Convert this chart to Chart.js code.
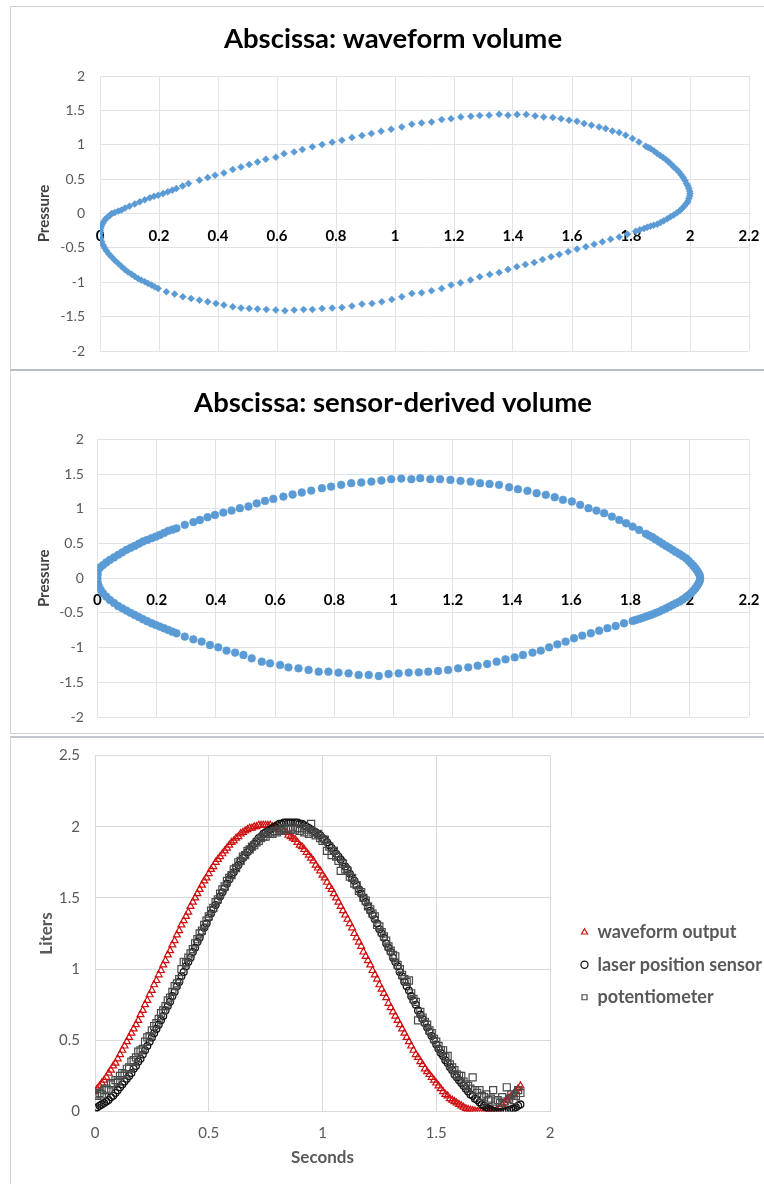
<!DOCTYPE html>
<html>
<head>
<meta charset="utf-8">
<script src="https://cdn.jsdelivr.net/npm/chart.js@4.4.0/dist/chart.umd.min.js"></script>
<style>
  html, body { margin: 0; padding: 0; background: #fff; width: 764px; height: 1184px; overflow: hidden; }
  .frame { position: absolute; left: 10px; width: 800px; border: 1px solid #cfd3d9; box-sizing: border-box; }
  #f1 { top: 6px; height: 365px; border-bottom: 2px solid #b9bdc4; }
  #f2 { top: 371px; height: 363px; border-top: none; }
  #f3 { top: 736px; height: 460px; border-top: 2px solid #c3c7cd; }
  canvas { position: absolute; left: 11px; }
  #c1 { top: 7px; }
  #c2 { top: 371px; }
  #c3 { top: 738px; }
</style>
</head>
<body>
<div class="frame" id="f1"></div>
<div class="frame" id="f2"></div>
<div class="frame" id="f3"></div>
<canvas id="c1" width="764" height="362"></canvas>
<canvas id="c2" width="764" height="362"></canvas>
<canvas id="c3" width="764" height="446"></canvas>
<script>
  "use strict";

  // ====
  // Data
  // ====
  const panelTitles = ["Abscissa: waveform volume", "Abscissa: sensor-derived volume"];
  const legendLabels = ["waveform output", "laser position sensor", "potentiometer"];

  // [volume, pressure]
  const waveformLoop = [
    [0,-0.29],[0.002,-0.218],[0.009,-0.145],[0.02,-0.073],[0.034,-0.024],[0.05,0.015],[0.073,0.05],[0.1,0.107],
    [0.135,0.17],[0.169,0.228],[0.197,0.266],[0.23,0.315],[0.259,0.363],[0.28,0.4],[0.3,0.436],[0.337,0.485],
    [0.365,0.523],[0.39,0.557],[0.42,0.59],[0.45,0.64],[0.478,0.678],[0.506,0.712],[0.534,0.75],[0.562,0.79],
    [0.596,0.82],[0.624,0.87],[0.658,0.896],[0.686,0.93],[0.72,0.97],[0.753,1.003],[0.787,1.037],[0.82,1.066],
    [0.854,1.105],[0.888,1.134],[0.92,1.163],[0.953,1.197],[0.987,1.226],[1.023,1.26],[1.057,1.3],[1.09,1.318],
    [1.124,1.33],[1.158,1.366],[1.19,1.38],[1.223,1.405],[1.257,1.415],[1.287,1.424],[1.319,1.43],[1.353,1.444],
    [1.383,1.43],[1.414,1.44],[1.445,1.44],[1.475,1.42],[1.504,1.405],[1.535,1.395],[1.563,1.38],[1.59,1.357],
    [1.617,1.342],[1.641,1.308],[1.666,1.284],[1.692,1.26],[1.714,1.235],[1.737,1.2],[1.76,1.177],[1.782,1.14],
    [1.805,1.09],[1.827,1.04],[1.85,0.98],[1.866,0.945],[1.889,0.872],[1.909,0.814],[1.928,0.75],[1.945,0.678],
    [1.962,0.606],[1.977,0.523],[1.988,0.436],[1.996,0.363],[2,0.29],[1.996,0.218],[1.988,0.145],[1.973,0.073],
    [1.956,0.01],[1.934,-0.048],[1.911,-0.107],[1.889,-0.155],[1.866,-0.184],[1.844,-0.218],[1.816,-0.257],[1.788,-0.3],
    [1.76,-0.34],[1.731,-0.373],[1.703,-0.412],[1.675,-0.446],[1.647,-0.485],[1.617,-0.518],[1.587,-0.557],[1.557,-0.596],
    [1.529,-0.63],[1.5,-0.669],[1.472,-0.712],[1.442,-0.741],[1.413,-0.775],[1.383,-0.814],[1.353,-0.858],[1.321,-0.887],
    [1.287,-0.92],[1.256,-0.969],[1.222,-1.008],[1.19,-1.04],[1.158,-1.09],[1.124,-1.124],[1.09,-1.153],[1.057,-1.163],
    [1.023,-1.21],[0.989,-1.25],[0.955,-1.284],[0.922,-1.308],[0.888,-1.318],[0.854,-1.347],[0.82,-1.366],[0.787,-1.376],
    [0.753,-1.38],[0.72,-1.395],[0.69,-1.395],[0.658,-1.405],[0.627,-1.415],[0.596,-1.405],[0.564,-1.395],[0.534,-1.39],
    [0.506,-1.38],[0.478,-1.376],[0.45,-1.357],[0.42,-1.332],[0.393,-1.308],[0.365,-1.284],[0.337,-1.26],[0.309,-1.235],
    [0.281,-1.21],[0.253,-1.172],[0.225,-1.139],[0.197,-1.09],[0.174,-1.04],[0.152,-0.993],[0.129,-0.945],[0.107,-0.882],
    [0.084,-0.814],[0.062,-0.727],[0.039,-0.63],[0.022,-0.543],[0.011,-0.46],[0.002,-0.363],
    // dense stretches at both turning points
    [0.085,0.08],[0.118,0.14],[0.152,0.2],[0.183,0.25],[0.214,0.29],[0.245,0.34],[0.062,0.035],[0.04,0],
    [0.027,-0.05],[0.014,-0.11],[0.005,-0.18],[0.001,-0.25],[0,-0.33],[0.006,-0.41],[0.016,-0.5],[0.03,-0.59],
    [0.05,-0.68],[0.073,-0.77],[0.095,-0.85],[0.118,-0.915],[0.14,-0.97],[0.163,-1.017],[0.185,-1.065],
    [1.858,0.96],[1.878,0.91],[1.899,0.843],[1.919,0.782],[1.937,0.714],[1.954,0.642],[1.97,0.565],[1.983,0.48],
    [1.993,0.4],[1.999,0.325],[1.999,0.254],[1.993,0.18],[1.981,0.11],[1.965,0.04],[1.945,-0.02],[1.923,-0.078],
    [1.9,-0.13],[1.877,-0.17],[1.855,-0.2],[1.83,-0.237]
  ];

  // [volume, pressure]
  const sensorLoop = [
    [0,0],[0.002,0.12],[0.019,0.19],[0.042,0.264],[0.07,0.337],[0.098,0.41],[0.126,0.466],[0.154,0.53],
    [0.183,0.577],[0.211,0.625],[0.239,0.683],[0.267,0.72],[0.295,0.77],[0.324,0.81],[0.346,0.84],[0.372,0.88],
    [0.397,0.913],[0.425,0.947],[0.453,0.976],[0.481,1.01],[0.51,1.034],[0.538,1.08],[0.566,1.115],[0.594,1.144],
    [0.628,1.178],[0.659,1.207],[0.69,1.236],[0.722,1.264],[0.758,1.298],[0.789,1.322],[0.823,1.346],[0.857,1.37],
    [0.891,1.38],[0.925,1.394],[0.959,1.409],[0.992,1.428],[1.026,1.437],[1.06,1.428],[1.09,1.442],[1.124,1.428],
    [1.157,1.428],[1.192,1.418],[1.226,1.404],[1.26,1.394],[1.292,1.37],[1.324,1.36],[1.356,1.346],[1.39,1.312],
    [1.42,1.284],[1.452,1.26],[1.483,1.226],[1.514,1.202],[1.544,1.168],[1.572,1.13],[1.602,1.106],[1.63,1.058],
    [1.658,1.01],[1.685,0.976],[1.711,0.938],[1.737,0.889],[1.762,0.841],[1.785,0.793],[1.807,0.745],[1.829,0.697],
    [1.852,0.64],[1.874,0.591],[1.897,0.529],[1.92,0.466],[1.942,0.41],[1.965,0.35],[1.987,0.288],[2.004,0.216],
    [2.019,0.144],[2.03,0.072],[2.035,0],[2.03,-0.072],[2.019,-0.144],[2.004,-0.216],[1.987,-0.274],[1.965,-0.337],
    [1.942,-0.385],[1.92,-0.433],[1.897,-0.48],[1.874,-0.52],[1.852,-0.553],[1.829,-0.587],[1.807,-0.615],[1.778,-0.649],
    [1.75,-0.688],[1.722,-0.72],[1.694,-0.755],[1.666,-0.793],[1.637,-0.827],[1.609,-0.865],[1.581,-0.913],[1.553,-0.952],
    [1.525,-0.995],[1.497,-1.043],[1.469,-1.072],[1.437,-1.106],[1.409,-1.14],[1.378,-1.168],[1.348,-1.202],[1.316,-1.236],
    [1.284,-1.26],[1.252,-1.284],[1.218,-1.298],[1.184,-1.322],[1.15,-1.337],[1.117,-1.346],[1.085,-1.356],[1.051,-1.36],
    [1.017,-1.37],[0.983,-1.38],[0.95,-1.409],[0.916,-1.394],[0.882,-1.394],[0.848,-1.37],[0.814,-1.36],[0.78,-1.346],
    [0.747,-1.346],[0.713,-1.322],[0.679,-1.298],[0.645,-1.284],[0.617,-1.25],[0.583,-1.226],[0.555,-1.202],[0.521,-1.154],
    [0.493,-1.106],[0.465,-1.072],[0.436,-1.043],[0.408,-0.995],[0.38,-0.962],[0.352,-0.913],[0.324,-0.88],[0.295,-0.841],
    [0.267,-0.793],[0.239,-0.745],[0.211,-0.697],[0.183,-0.649],[0.154,-0.591],[0.126,-0.529],[0.098,-0.466],[0.07,-0.4],
    [0.042,-0.312],[0.019,-0.216],[0.005,-0.12],[0,-0.048],
    // dense stretches at both turning points
    [0.001,0.06],[0.009,0.155],[0.03,0.228],[0.056,0.3],[0.084,0.373],[0.112,0.438],[0.14,0.498],[0.168,0.553],
    [0.197,0.6],[0.225,0.654],[0.253,0.7],[0.002,-0.084],[0.011,-0.168],[0.03,-0.264],[0.056,-0.356],[0.084,-0.433],
    [0.112,-0.498],[0.14,-0.56],[0.168,-0.62],[0.197,-0.673],[0.225,-0.721],[0.253,-0.77],
    [1.863,0.615],[1.885,0.56],[1.908,0.497],[1.931,0.438],[1.953,0.38],[1.976,0.32],[1.996,0.252],[2.012,0.18],
    [2.025,0.108],[2.034,0.036],[2.034,-0.036],[2.025,-0.108],[2.012,-0.18],[1.996,-0.245],[1.976,-0.306],[1.953,-0.361],
    [1.931,-0.41],[1.908,-0.457],[1.885,-0.5],[1.863,-0.537],[1.84,-0.57],[1.818,-0.6]
  ];

  // bottom panel: sample times (s) and volumes (L)
  const seconds = [
    0,0.01,0.02,0.03,0.04,0.05,0.06,0.07,0.08,0.09,0.1,0.11,0.12,0.13,0.14,0.15,0.16,0.17,0.18,0.19,
    0.2,0.21,0.22,0.23,0.24,0.25,0.26,0.27,0.28,0.29,0.3,0.31,0.32,0.33,0.34,0.35,0.36,0.37,0.38,0.39,
    0.4,0.41,0.42,0.43,0.44,0.45,0.46,0.47,0.48,0.49,0.5,0.51,0.52,0.53,0.54,0.55,0.56,0.57,0.58,0.59,
    0.6,0.61,0.62,0.63,0.64,0.65,0.66,0.67,0.68,0.69,0.7,0.71,0.72,0.73,0.74,0.75,0.76,0.77,0.78,0.79,
    0.8,0.81,0.82,0.83,0.84,0.85,0.86,0.87,0.88,0.89,0.9,0.91,0.92,0.93,0.94,0.95,0.96,0.97,0.98,0.99,
    1,1.01,1.02,1.03,1.04,1.05,1.06,1.07,1.08,1.09,1.1,1.11,1.12,1.13,1.14,1.15,1.16,1.17,1.18,1.19,
    1.2,1.21,1.22,1.23,1.24,1.25,1.26,1.27,1.28,1.29,1.3,1.31,1.32,1.33,1.34,1.35,1.36,1.37,1.38,1.39,
    1.4,1.41,1.42,1.43,1.44,1.45,1.46,1.47,1.48,1.49,1.5,1.51,1.52,1.53,1.54,1.55,1.56,1.57,1.58,1.59,
    1.6,1.61,1.62,1.63,1.64,1.65,1.66,1.67,1.68,1.69,1.7,1.71,1.72,1.73,1.74,1.75,1.76,1.77,1.78,1.79,
    1.8,1.81,1.82,1.83,1.84,1.85,1.86,1.87
  ];
  const waveformOutput = [
    0.14,0.16,0.18,0.2,0.22,0.24,0.27,0.29,0.32,0.34, 0.37,0.4,0.43,0.46,0.49,0.52,0.55,0.58,0.61,0.64,
    0.68,0.71,0.75,0.78,0.82,0.85,0.89,0.92,0.96,0.99, 1.03,1.06,1.1,1.13,1.17,1.2,1.24,1.27,1.31,1.34,
    1.37,1.4,1.44,1.47,1.5,1.53,1.56,1.59,1.62,1.64, 1.67,1.7,1.72,1.75,1.77,1.79,1.81,1.83,1.85,1.87,
    1.89,1.9,1.92,1.93,1.95,1.96,1.97,1.98,1.99,1.99, 2,2,2.01,2.01,2.01,2.01,2.01,2.01,2,2,
    1.99,1.98,1.98,1.97,1.96,1.94,1.93,1.92,1.91,1.89, 1.87,1.86,1.84,1.82,1.8,1.78,1.76,1.73,1.71,1.69,
    1.66,1.64,1.61,1.58,1.56,1.53,1.5,1.47,1.44,1.41, 1.38,1.35,1.32,1.29,1.25,1.22,1.19,1.16,1.12,1.09,
    1.06,1.03,0.99,0.96,0.93,0.89,0.86,0.83,0.8,0.76, 0.73,0.7,0.67,0.64,0.61,0.58,0.55,0.52,0.49,0.46,
    0.43,0.4,0.38,0.35,0.33,0.3,0.28,0.26,0.24,0.22, 0.2,0.18,0.16,0.14,0.12,0.11,0.09,0.08,0.07,0.06,
    0.05,0.04,0.03,0.02,0.015,0.01,0.006,0.003,0.001,0, 0,0,0,0,0,0,0,0.01,0.03,0.05,
    0.065,0.08,0.095,0.11,0.125,0.14,0.16,0.18
  ];
  const laserSensor = [
    0.02,0.03,0.04,0.05,0.06,0.07,0.08,0.1,0.11,0.13, 0.15,0.17,0.19,0.21,0.23,0.25,0.27,0.3,0.32,0.35,
    0.37,0.4,0.43,0.46,0.49,0.52,0.55,0.58,0.61,0.64, 0.67,0.71,0.74,0.77,0.81,0.84,0.88,0.91,0.95,0.98,
    1.02,1.05,1.08,1.12,1.15,1.19,1.22,1.26,1.29,1.32, 1.36,1.39,1.42,1.45,1.48,1.51,1.54,1.57,1.6,1.63,
    1.66,1.68,1.71,1.73,1.76,1.78,1.8,1.82,1.84,1.86, 1.88,1.9,1.92,1.93,1.95,1.96,1.97,1.98,1.99,2,
    2.01,2.02,2.02,2.03,2.03,2.03,2.03,2.03,2.03,2.03, 2.02,2.02,2.01,2,1.99,1.98,1.97,1.96,1.95,1.94,
    1.92,1.91,1.89,1.87,1.85,1.83,1.81,1.79,1.77,1.75, 1.72,1.7,1.67,1.64,1.62,1.59,1.56,1.53,1.5,1.47,
    1.44,1.41,1.38,1.35,1.32,1.28,1.25,1.22,1.18,1.15, 1.12,1.08,1.05,1.02,0.98,0.95,0.91,0.88,0.85,0.81,
    0.78,0.75,0.71,0.68,0.65,0.62,0.59,0.56,0.53,0.5, 0.47,0.44,0.41,0.39,0.36,0.34,0.31,0.29,0.26,0.24,
    0.22,0.2,0.18,0.16,0.14,0.12,0.11,0.09,0.08,0.065, 0.05,0.04,0.03,0.02,0.013,0.005,0,-0.005,-0.005,0,
    0,0.005,0.01,0.015,0.02,0.03,0.04,0.05
  ];
  const potentiometer = [
    0.12,0.11,0.13,0.12,0.15,0.16,0.15,0.19,0.2,0.22, 0.21,0.25,0.27,0.26,0.3,0.31,0.35,0.36,0.38,0.42,
    0.43,0.44,0.49,0.52,0.53,0.57,0.6,0.62,0.65,0.69, 0.71,0.74,0.78,0.8,0.84,0.88,0.9,0.93,1,1.05,
    1.04,1.08,1.11,1.14,1.18,1.21,1.25,1.27,1.31,1.34, 1.37,1.41,1.43,1.47,1.49,1.53,1.56,1.58,1.62,1.64,
    1.66,1.7,1.71,1.75,1.76,1.79,1.8,1.83,1.84,1.86, 1.87,1.89,1.9,1.92,1.93,1.93,1.95,1.96,1.95,1.97,
    1.96,1.98,1.97,1.99,1.98,1.99,1.98,2,1.98,1.99, 1.97,1.99,1.96,1.98,1.95,2.02,1.96,1.94,1.95,1.92,
    1.9,1.91,1.83,1.86,1.8,1.83,1.79,1.76,1.69,1.74, 1.7,1.69,1.65,1.64,1.6,1.59,1.55,1.54,1.5,1.48,
    1.44,1.42,1.39,1.37,1.31,1.3,1.26,1.23,1.2,1.16, 1.13,1.1,1.09,1.03,1,0.96,0.93,0.91,0.92,0.83,
    0.79,0.77,0.64,0.7,0.66,0.63,0.61,0.57,0.55,0.51, 0.49,0.46,0.43,0.43,0.38,0.39,0.33,0.31,0.29,0.26,
    0.25,0.25,0.21,0.19,0.18,0.16,0.24,0.15,0.13,0.15, 0.11,0.1,0.12,0.08,0.09,0.15,0.07,0.08,0.06,0.1,
    0.07,0.17,0.09,0.12,0.08,0.11,0.15,0.13
  ];

  // =====
  // Style
  // =====
  const FONT = 'Lato, "Open Sans", "DejaVu Sans", sans-serif';
  const BLUE = "#5b9bd5";
  const LOOP_GRID = "#e0e3e8";
  const TIME_GRID = "#d9d9d9";
  Chart.defaults.font.family = FONT;

  const fmt = (v) => String(Math.round(v * 10) / 10);
  const toPoints = (pairs) => pairs.map(([x, y]) => ({ x, y }));
  const toSeries = (ys) => ys.map((y, i) => ({ x: seconds[i], y }));

  // tick padding should only push labels sideways, not shrink the plot
  const fixWidth = (w) => (scale) => {
    scale.width = w;
    scale.paddingTop = 0;
    scale.paddingBottom = 0;
  };
  const spacer = (w) => ({
    position: "right",
    grid: { display: false },
    border: { display: false },
    ticks: { display: false },
    afterFit: fixWidth(w),
  });

  // ===========
  // Loop panels
  // ===========
  const drawLoop = (canvasId, pairs, pointStyle, radius, o) => {
    return new Chart(document.getElementById(canvasId), {
      type: "scatter",
      data: {
        datasets: [
          {
            data: toPoints(pairs),
            pointStyle: pointStyle,
            pointRadius: radius,
            backgroundColor: BLUE,
            borderColor: BLUE,
            borderWidth: 0.5,
          },
        ],
      },
      options: {
        responsive: false,
        animation: false,
        devicePixelRatio: 1,
        events: [],
        layout: { padding: { left: 0, right: 0, top: 0, bottom: o.padBottom } },
        plugins: {
          legend: { display: false },
          tooltip: { enabled: false },
          title: {
            display: true,
            text: o.title,
            color: "#000",
            font: { size: 27.5, weight: "bold" },
            padding: { top: 15.7, bottom: o.titleBottom },
          },
        },
        scales: {
          x: {
            type: "linear",
            position: { y: 0 },
            min: 0,
            max: 2.2,
            ticks: {
              stepSize: 0.2,
              autoSkip: false,
              padding: o.xPad,
              color: "#000",
              font: { size: 15, weight: "bold" },
              callback: fmt,
            },
            grid: { color: LOOP_GRID, drawTicks: false },
            border: { display: false },
          },
          y: {
            min: -2,
            max: 2,
            ticks: { stepSize: 0.5, padding: o.yPad, color: "#595959", font: { size: 14 }, callback: fmt },
            grid: { color: LOOP_GRID, drawTicks: false },
            border: { display: false },
            title: {
              display: true,
              text: "Pressure",
              color: "#404040",
              font: { size: 15, weight: "bold" },
              padding: { top: 24, bottom: 0 },
            },
            afterFit: fixWidth(o.yWidth),
          },
          gap: spacer(26),
        },
      },
    });
  };

  drawLoop("c1", waveformLoop, "rectRot", 3.5, {
    title: panelTitles[0], padBottom: 18, titleBottom: 20.3, xPad: 14, yPad: 15, yWidth: 89,
  });
  drawLoop("c2", sensorLoop, "circle", 3.9, {
    title: panelTitles[1], padBottom: 16, titleBottom: 19.8, xPad: 12.5, yPad: 13.5, yWidth: 86.4,
  });

  // ==========
  // Time panel
  // ==========
  const LEGEND_FONT = 18;
  const LEGEND_PAD = 14.5;
  const LEGEND_BOX = 8;
  const LEGEND_GAP = 16;
  const measure = document.createElement("canvas").getContext("2d");
  measure.font = `bold ${LEGEND_FONT}px ${FONT}`;
  const legendTextWidth = Math.max(...legendLabels.map((t) => measure.measureText(t).width));
  // legend box = padding + marker + gap + text + 10; plot must end 225px from the canvas right edge
  const legendWidth = LEGEND_PAD + LEGEND_BOX + LEGEND_FONT / 2 + legendTextWidth + 10;
  const rightPad = Math.max(0, 764 - 539 - LEGEND_GAP - legendWidth);

  new Chart(document.getElementById("c3"), {
    type: "scatter",
    data: {
      datasets: [
        {
          label: legendLabels[0],
          data: toSeries(waveformOutput),
          pointStyle: "triangle",
          pointRadius: 4,
          backgroundColor: "rgba(0,0,0,0)",
          borderColor: "#cf1010",
          borderWidth: 1.2,
          order: 3,
        },
        {
          label: legendLabels[1],
          data: toSeries(laserSensor),
          pointStyle: "circle",
          pointRadius: 3.4,
          backgroundColor: "rgba(0,0,0,0)",
          borderColor: "#141414",
          borderWidth: 1.3,
          order: 2,
        },
        {
          label: legendLabels[2],
          data: toSeries(potentiometer),
          pointStyle: "rect",
          pointRadius: 5,
          backgroundColor: "rgba(0,0,0,0)",
          borderColor: "#4a4a4a",
          borderWidth: 1.2,
          order: 1,
        },
      ],
    },
    options: {
      responsive: false,
      animation: false,
      devicePixelRatio: 1,
      events: [],
      layout: { padding: { left: 0, right: rightPad, top: 17.5, bottom: 10 } },
      plugins: {
        tooltip: { enabled: false },
        legend: {
          position: "right",
          maxWidth: 400,
          labels: {
            usePointStyle: true,
            boxWidth: LEGEND_BOX,
            boxHeight: 5,
            padding: LEGEND_PAD,
            color: "#595959",
            font: { size: LEGEND_FONT, weight: "bold" },
            sort: (a, b) => a.datasetIndex - b.datasetIndex,
          },
        },
      },
      scales: {
        x: {
          min: 0,
          max: 2,
          ticks: { stepSize: 0.5, padding: 12.5, color: "#595959", font: { size: 15 }, callback: fmt },
          grid: { color: TIME_GRID, drawTicks: false },
          border: { display: false },
          title: {
            display: true,
            text: "Seconds",
            color: "#595959",
            font: { size: 17, weight: "bold" },
            padding: { top: 0, bottom: 5.8 },
          },
          afterFit: (scale) => {
            scale.height = 62.5;
            scale.paddingLeft = 0;
            scale.paddingRight = 0;
          },
        },
        y: {
          min: 0,
          max: 2.5,
          ticks: { stepSize: 0.5, padding: 15, color: "#595959", font: { size: 15 }, callback: fmt },
          grid: { color: TIME_GRID, drawTicks: false },
          border: { display: false },
          title: {
            display: true,
            text: "Liters",
            color: "#595959",
            font: { size: 17, weight: "bold" },
            padding: { top: 25, bottom: 0 },
          },
          afterFit: fixWidth(84),
        },
        gap: spacer(LEGEND_GAP),
      },
    },
  });
</script>
</body>
</html>
